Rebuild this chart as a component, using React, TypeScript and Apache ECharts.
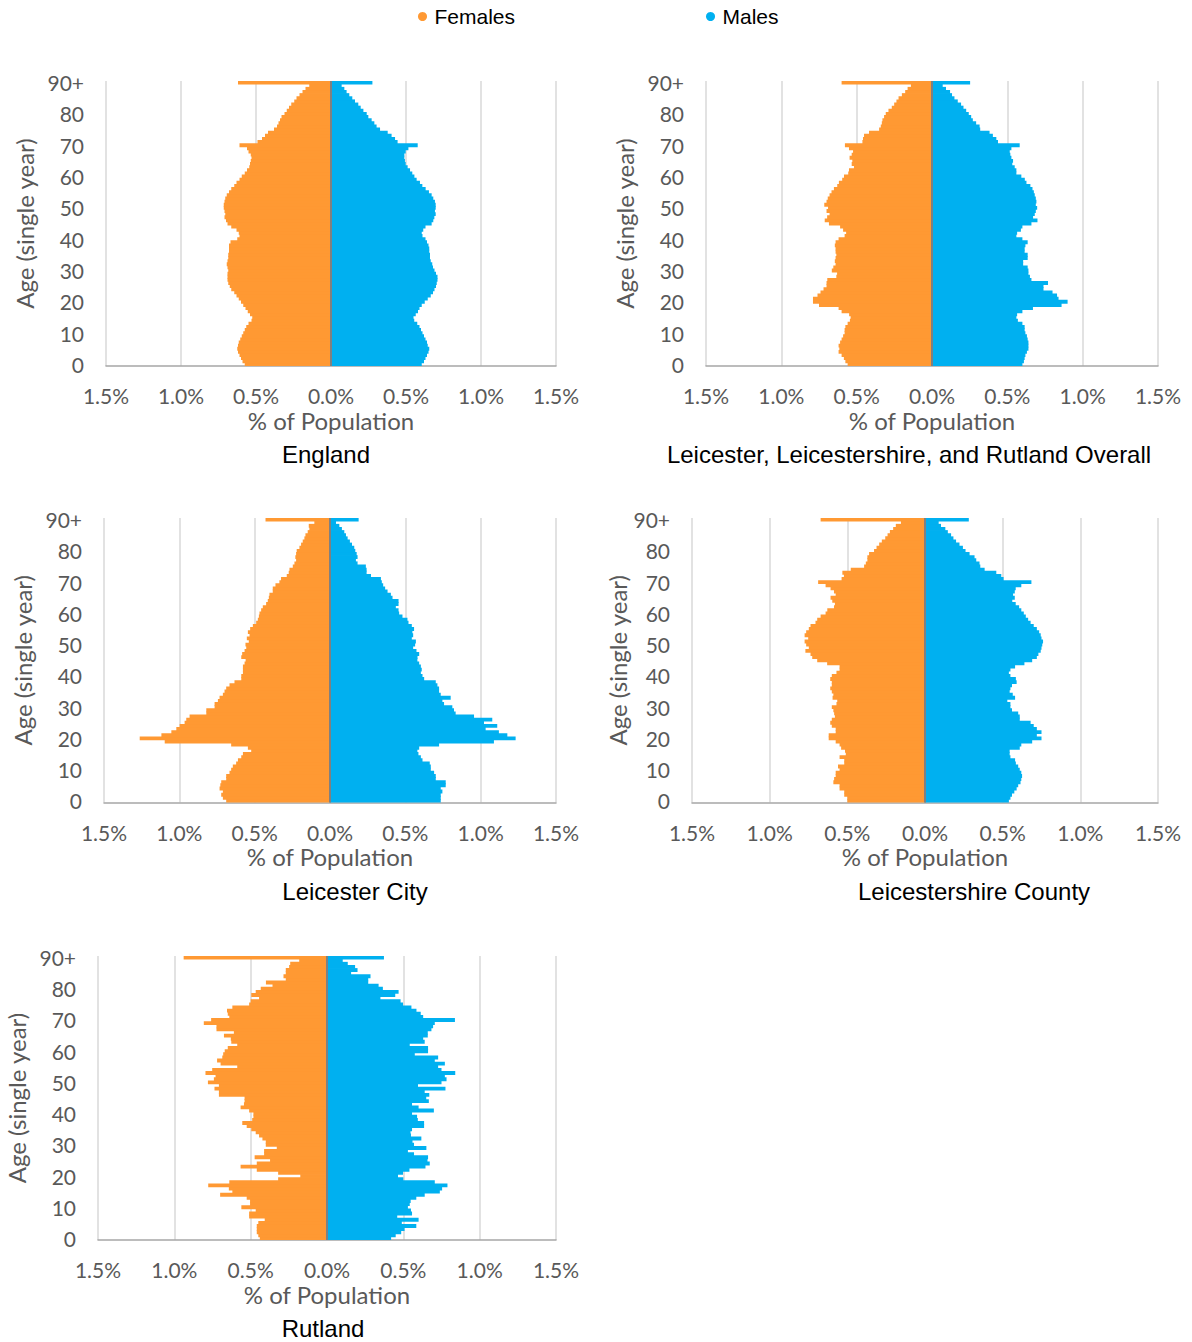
import React, { useEffect, useRef } from 'react';
import * as echarts from 'echarts';

// ---------- data (values are % of total population) ----------
const AGE_LABELS = Array.from({ length: 91 }, (_, i) => (i === 90 ? '90+' : String(i)));
const X_TICKS = [-1.5, -1.0, -0.5, 0, 0.5, 1.0, 1.5];

const englandFemales = [
  0.575, 0.59, 0.6, 0.61, 0.62, 0.625, 0.62, 0.615, 0.605, 0.595,
  0.585, 0.575, 0.565, 0.55, 0.53, 0.525, 0.54, 0.555, 0.57, 0.585,
  0.6, 0.615, 0.63, 0.645, 0.665, 0.675, 0.685, 0.69, 0.69, 0.69,
  0.685, 0.69, 0.695, 0.69, 0.685, 0.685, 0.68, 0.68, 0.68, 0.67,
  0.625, 0.61, 0.615, 0.63, 0.665, 0.69, 0.7, 0.71, 0.705, 0.71,
  0.715, 0.715, 0.71, 0.705, 0.695, 0.68, 0.665, 0.645, 0.63, 0.61,
  0.595, 0.575, 0.56, 0.545, 0.54, 0.535, 0.53, 0.535, 0.55, 0.56,
  0.61, 0.49, 0.46, 0.44, 0.42, 0.38, 0.36, 0.35, 0.34, 0.33,
  0.31, 0.295, 0.28, 0.265, 0.245, 0.23, 0.21, 0.19, 0.17, 0.145,
  0.62,
];
const englandMales = [
  0.605, 0.62, 0.63, 0.64, 0.65, 0.655, 0.645, 0.64, 0.63, 0.62,
  0.61, 0.6, 0.59, 0.575, 0.555, 0.55, 0.565, 0.58, 0.59, 0.605,
  0.625, 0.645, 0.665, 0.68, 0.69, 0.7, 0.705, 0.71, 0.71, 0.7,
  0.69, 0.68, 0.675, 0.665, 0.66, 0.66, 0.655, 0.655, 0.65, 0.64,
  0.63, 0.61, 0.605, 0.615, 0.63, 0.671, 0.682, 0.689, 0.698, 0.693,
  0.698, 0.698, 0.693, 0.682, 0.671, 0.653, 0.631, 0.609, 0.593, 0.571,
  0.556, 0.542, 0.527, 0.511, 0.498, 0.493, 0.489, 0.489, 0.498, 0.516,
  0.578, 0.444, 0.427, 0.404, 0.378, 0.327, 0.304, 0.289, 0.271, 0.249,
  0.238, 0.216, 0.198, 0.182, 0.16, 0.142, 0.122, 0.104, 0.089, 0.071,
  0.276,
];

const llrFemales = [
  0.56, 0.575, 0.585, 0.6, 0.62, 0.615, 0.62, 0.61, 0.6, 0.59,
  0.58, 0.58, 0.575, 0.56, 0.545, 0.54, 0.55, 0.6, 0.62, 0.75,
  0.79, 0.79, 0.76, 0.74, 0.72, 0.7, 0.7, 0.695, 0.635, 0.63,
  0.665, 0.655, 0.64, 0.645, 0.64, 0.635, 0.64, 0.64, 0.645, 0.64,
  0.62, 0.58, 0.57, 0.59, 0.61, 0.684, 0.712, 0.696, 0.68, 0.7,
  0.69, 0.715, 0.7, 0.692, 0.68, 0.667, 0.651, 0.629, 0.618, 0.596,
  0.584, 0.556, 0.551, 0.518, 0.533, 0.529, 0.547, 0.533, 0.524, 0.551,
  0.578, 0.462, 0.458, 0.451, 0.418, 0.351, 0.34, 0.333, 0.329, 0.318,
  0.307, 0.289, 0.267, 0.251, 0.236, 0.222, 0.2, 0.178, 0.162, 0.14,
  0.6,
];
const llrMales = [
  0.6, 0.61, 0.615, 0.62, 0.63, 0.64, 0.64, 0.64, 0.635, 0.63,
  0.62, 0.615, 0.615, 0.6, 0.57, 0.56, 0.565, 0.6, 0.67, 0.86,
  0.9, 0.84, 0.83, 0.8, 0.74, 0.74, 0.77, 0.66, 0.65, 0.64,
  0.64, 0.635, 0.605, 0.605, 0.635, 0.635, 0.615, 0.615, 0.62, 0.635,
  0.6, 0.56, 0.565, 0.59, 0.6, 0.66, 0.7, 0.671, 0.682, 0.689,
  0.698, 0.689, 0.693, 0.689, 0.682, 0.676, 0.667, 0.653, 0.627, 0.616,
  0.593, 0.56, 0.56, 0.549, 0.533, 0.538, 0.527, 0.52, 0.516, 0.527,
  0.582, 0.438, 0.427, 0.404, 0.382, 0.32, 0.316, 0.293, 0.271, 0.26,
  0.244, 0.227, 0.209, 0.193, 0.171, 0.149, 0.133, 0.12, 0.093, 0.071,
  0.253,
];

const cityFemales = [
  0.689, 0.711, 0.722, 0.711, 0.733, 0.728, 0.722, 0.689, 0.689, 0.667,
  0.656, 0.645, 0.623, 0.611, 0.589, 0.578, 0.523, 0.545, 0.656, 1.097,
  1.263, 1.119, 1.053, 1.02, 0.998, 0.965, 0.954, 0.932, 0.821, 0.821,
  0.766, 0.766, 0.744, 0.733, 0.711, 0.7, 0.689, 0.667, 0.634, 0.589,
  0.589, 0.578, 0.578, 0.578, 0.567, 0.56, 0.589, 0.583, 0.567, 0.556,
  0.561, 0.539, 0.552, 0.534, 0.545, 0.53, 0.512, 0.49, 0.479, 0.472,
  0.468, 0.457, 0.446, 0.424, 0.413, 0.406, 0.402, 0.38, 0.38, 0.362,
  0.336, 0.325, 0.287, 0.274, 0.269, 0.247, 0.236, 0.225, 0.23, 0.225,
  0.221, 0.203, 0.192, 0.181, 0.17, 0.163, 0.148, 0.137, 0.141, 0.104,
  0.428,
];
const cityMales = [
  0.735, 0.735, 0.735, 0.746, 0.735, 0.768, 0.768, 0.702, 0.702, 0.691,
  0.669, 0.669, 0.662, 0.614, 0.603, 0.587, 0.58, 0.592, 0.724, 1.088,
  1.232, 1.177, 1.121, 1.033, 1.11, 1.022, 1.077, 0.956, 0.834, 0.823,
  0.812, 0.757, 0.746, 0.801, 0.735, 0.724, 0.724, 0.713, 0.702, 0.625,
  0.614, 0.603, 0.609, 0.603, 0.592, 0.58, 0.581, 0.592, 0.574, 0.552,
  0.565, 0.57, 0.543, 0.552, 0.547, 0.558, 0.543, 0.521, 0.514, 0.481,
  0.459, 0.455, 0.437, 0.455, 0.455, 0.415, 0.404, 0.382, 0.366, 0.353,
  0.344, 0.338, 0.272, 0.243, 0.243, 0.238, 0.183, 0.172, 0.183, 0.177,
  0.168, 0.161, 0.146, 0.132, 0.117, 0.106, 0.095, 0.079, 0.062, 0.04,
  0.19,
];

const countyFemales = [
  0.5, 0.5, 0.52, 0.52, 0.55, 0.55, 0.59, 0.585, 0.575, 0.575,
  0.55, 0.56, 0.52, 0.52, 0.55, 0.51, 0.515, 0.54, 0.55, 0.575,
  0.62, 0.62, 0.575, 0.575, 0.6, 0.61, 0.6, 0.58, 0.585, 0.59,
  0.6, 0.57, 0.565, 0.595, 0.59, 0.6, 0.61, 0.6, 0.6, 0.61,
  0.6, 0.57, 0.55, 0.55, 0.63, 0.694, 0.726, 0.737, 0.77, 0.748,
  0.765, 0.775, 0.752, 0.775, 0.765, 0.748, 0.737, 0.705, 0.694, 0.672,
  0.64, 0.629, 0.586, 0.58, 0.597, 0.608, 0.575, 0.586, 0.608, 0.64,
  0.688, 0.537, 0.522, 0.532, 0.478, 0.392, 0.381, 0.371, 0.371, 0.36,
  0.328, 0.312, 0.295, 0.278, 0.256, 0.241, 0.226, 0.205, 0.188, 0.155,
  0.672,
];
const countyMales = [
  0.54, 0.55, 0.56, 0.575, 0.59, 0.6, 0.615, 0.62, 0.625, 0.62,
  0.61, 0.6, 0.585, 0.58, 0.55, 0.545, 0.545, 0.61, 0.62, 0.69,
  0.75, 0.72, 0.75, 0.72, 0.7, 0.68, 0.61, 0.61, 0.6, 0.56,
  0.55, 0.55, 0.53, 0.58, 0.565, 0.545, 0.55, 0.56, 0.59, 0.585,
  0.55, 0.54, 0.55, 0.58, 0.64, 0.69, 0.72, 0.73, 0.745, 0.75,
  0.755, 0.76, 0.75, 0.745, 0.735, 0.72, 0.7, 0.68, 0.664, 0.649,
  0.636, 0.62, 0.606, 0.584, 0.562, 0.578, 0.567, 0.578, 0.584, 0.62,
  0.685, 0.506, 0.491, 0.459, 0.384, 0.356, 0.351, 0.33, 0.319, 0.287,
  0.261, 0.244, 0.222, 0.2, 0.183, 0.168, 0.147, 0.131, 0.103, 0.088,
  0.282,
];

const rutlandFemales = [
  0.44, 0.45, 0.46, 0.46, 0.46, 0.45, 0.408, 0.51, 0.51, 0.467,
  0.561, 0.504, 0.504, 0.526, 0.7, 0.62, 0.643, 0.778, 0.64, 0.32,
  0.175, 0.32, 0.46, 0.566, 0.46, 0.373, 0.474, 0.412, 0.412, 0.329,
  0.401, 0.401, 0.423, 0.445, 0.467, 0.496, 0.526, 0.555, 0.49, 0.482,
  0.482, 0.51, 0.566, 0.544, 0.54, 0.54, 0.708, 0.708, 0.737, 0.708,
  0.78, 0.741, 0.73, 0.796, 0.752, 0.588, 0.697, 0.72, 0.686, 0.68,
  0.67, 0.65, 0.588, 0.627, 0.63, 0.675, 0.61, 0.724, 0.724, 0.807,
  0.759, 0.64, 0.65, 0.655, 0.62, 0.51, 0.5, 0.445, 0.496, 0.467,
  0.434, 0.357, 0.4, 0.27, 0.285, 0.27, 0.27, 0.248, 0.241, 0.182,
  0.939,
];
const rutlandMales = [
  0.42, 0.45, 0.486, 0.508, 0.585, 0.49, 0.6, 0.46, 0.557, 0.55,
  0.53, 0.542, 0.548, 0.585, 0.64, 0.739, 0.754, 0.789, 0.706, 0.5,
  0.465, 0.498, 0.54, 0.645, 0.673, 0.658, 0.662, 0.57, 0.53, 0.651,
  0.57, 0.56, 0.618, 0.55, 0.547, 0.557, 0.636, 0.636, 0.595, 0.59,
  0.557, 0.7, 0.6, 0.557, 0.667, 0.65, 0.67, 0.64, 0.776, 0.596,
  0.75, 0.783, 0.772, 0.84, 0.75, 0.728, 0.772, 0.706, 0.728, 0.575,
  0.662, 0.662, 0.542, 0.64, 0.63, 0.66, 0.66, 0.684, 0.695, 0.706,
  0.838, 0.63, 0.614, 0.586, 0.553, 0.498, 0.482, 0.35, 0.447, 0.469,
  0.366, 0.338, 0.27, 0.27, 0.285, 0.158, 0.2, 0.184, 0.136, 0.103,
  0.373,
];

const PANEL_TITLES = [
  'England',
  'Leicester, Leicestershire, and Rutland Overall',
  'Leicester City',
  'Leicestershire County',
  'Rutland',
];
const PANEL_FEMALES = [englandFemales, llrFemales, cityFemales, countyFemales, rutlandFemales];
const PANEL_MALES = [englandMales, llrMales, cityMales, countyMales, rutlandMales];

// ---------- layout / style ----------
const LAYOUT = [
  { left: 106, top: 81, width: 450, height: 285, nameGap: 70, tx: 326, ty: 454 },
  { left: 706, top: 81, width: 452, height: 285, nameGap: 70, tx: 909, ty: 454 },
  { left: 104, top: 518, width: 452, height: 284.5, nameGap: 70, tx: 355, ty: 891 },
  { left: 692, top: 518, width: 466, height: 284.5, nameGap: 62, tx: 974, ty: 891 },
  { left: 98, top: 956, width: 458, height: 284, nameGap: 70, tx: 323, ty: 1328 },
];

const ORANGE = '#FF9933';
const BLUE = '#00B0F0';
const GREY_TEXT = '#595959';
const AXIS_FONT = 'Lato, "Open Sans", sans-serif';
const TITLE_FONT = '"Liberation Sans", Arial, sans-serif';
const BAR_WIDTH = 3.9; // slightly wider than the 3.13px band so adjacent ages overlap (no seams)

function buildOption() {
  const grid: any[] = [];
  const xAxis: any[] = [];
  const yAxis: any[] = [];
  const series: any[] = [];
  const graphic: any[] = [];

  LAYOUT.forEach((l, i) => {
    grid.push({ left: l.left, top: l.top, width: l.width, height: l.height, containLabel: false });
    xAxis.push({
      type: 'value',
      gridIndex: i,
      min: X_TICKS[0],
      max: X_TICKS[X_TICKS.length - 1],
      interval: 0.5,
      axisLine: { show: true, onZero: false, lineStyle: { color: '#A6A6A6', width: 1.5 } },
      axisTick: { show: false },
      splitLine: { show: true, lineStyle: { color: '#D9D9D9', width: 1.5 } },
      axisLabel: {
        formatter: (v: number) => Math.abs(v).toFixed(1) + '%',
        color: GREY_TEXT,
        fontSize: 21,
        fontFamily: AXIS_FONT,
        margin: 19,
      },
      name: '% of Population',
      nameLocation: 'middle',
      nameGap: 42,
      nameTextStyle: { color: GREY_TEXT, fontSize: 24, fontFamily: AXIS_FONT },
    });
    yAxis.push({
      type: 'category',
      gridIndex: i,
      data: AGE_LABELS,
      axisLine: { show: false, onZero: false },
      axisTick: { show: false },
      splitLine: { show: false },
      axisLabel: {
        interval: (idx: number) => idx % 10 === 0,
        color: GREY_TEXT,
        fontSize: 21,
        fontFamily: AXIS_FONT,
        margin: 22,
      },
      name: 'Age (single year)',
      nameLocation: 'middle',
      nameGap: l.nameGap,
      nameTextStyle: { color: GREY_TEXT, fontSize: 24, fontFamily: AXIS_FONT },
    });
    series.push({
      type: 'bar',
      name: 'Females',
      xAxisIndex: i,
      yAxisIndex: i,
      data: PANEL_FEMALES[i].map((v) => -v),
      barWidth: BAR_WIDTH,
      barGap: '-100%',
      itemStyle: { color: ORANGE },
      silent: true,
    });
    series.push({
      type: 'bar',
      name: 'Males',
      xAxisIndex: i,
      yAxisIndex: i,
      data: PANEL_MALES[i],
      barWidth: BAR_WIDTH,
      barGap: '-100%',
      itemStyle: { color: BLUE },
      silent: true,
      markLine: {
        silent: true,
        symbol: ['none', 'none'],
        label: { show: false },
        lineStyle: { color: '#808080', width: 2, type: 'solid' },
        data: [{ xAxis: 0 }],
      },
    });
    graphic.push({
      type: 'text',
      x: l.tx,
      y: l.ty,
      style: {
        text: PANEL_TITLES[i],
        fontSize: 24,
        fontFamily: TITLE_FONT,
        fill: '#000000',
        align: 'center',
        verticalAlign: 'middle',
      },
    });
  });

  return {
    animation: false,
    backgroundColor: '#FFFFFF',
    legend: {
      data: ['Females', 'Males'],
      left: 413,
      top: 1,
      icon: 'circle',
      itemWidth: 14,
      itemHeight: 9,
      itemGap: 191,
      selectedMode: false,
      textStyle: { fontSize: 21, fontFamily: TITLE_FONT, color: '#000000' },
    },
    grid,
    xAxis,
    yAxis,
    series,
    graphic,
  };
}

export default function App() {
  const ref = useRef<HTMLDivElement>(null);
  useEffect(() => {
    if (!ref.current) return;
    const chart = echarts.init(ref.current, null, { renderer: 'svg' });
    chart.setOption(buildOption());
    return () => chart.dispose();
  }, []);
  return (
    <div
      ref={ref}
      style={{ position: 'absolute', left: 0, top: 0, width: 1192, height: 1342, background: '#fff' }}
    />
  );
}
